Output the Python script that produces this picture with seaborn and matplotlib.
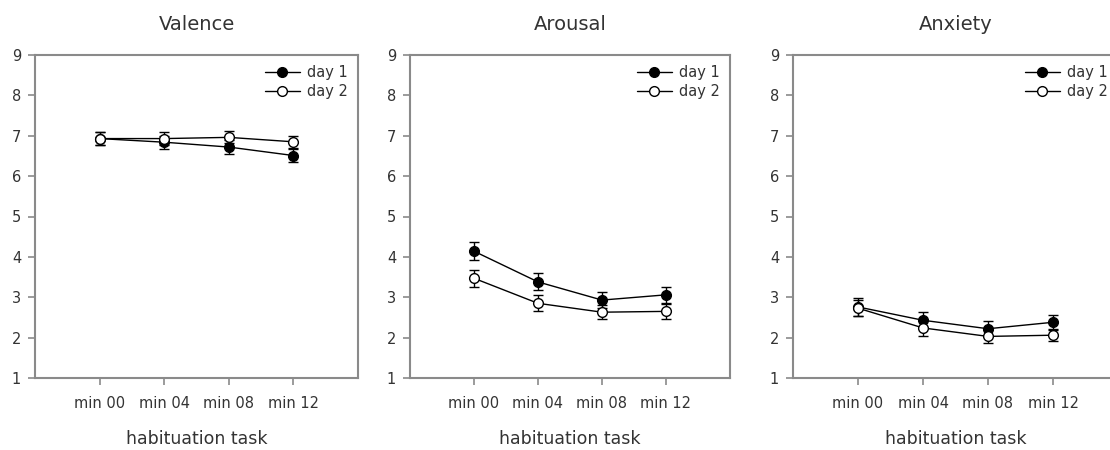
import numpy as np
import pandas as pd
import matplotlib
matplotlib.use("Agg")
import matplotlib.pyplot as plt
import seaborn as sns

# ---- data ----
times = ["min 00", "min 04", "min 08", "min 12"]
panels = ["Valence", "Arousal", "Anxiety"]

valence_day1 = [6.93, 6.84, 6.72, 6.51]
valence_day2 = [6.93, 6.93, 6.96, 6.85]
valence_err1 = [0.16, 0.16, 0.17, 0.15]
valence_err2 = [0.16, 0.16, 0.15, 0.15]

arousal_day1 = [4.14, 3.38, 2.93, 3.06]
arousal_day2 = [3.47, 2.85, 2.63, 2.65]
arousal_err1 = [0.22, 0.21, 0.20, 0.20]
arousal_err2 = [0.21, 0.20, 0.18, 0.18]

anxiety_day1 = [2.76, 2.43, 2.22, 2.38]
anxiety_day2 = [2.73, 2.24, 2.03, 2.06]
anxiety_err1 = [0.22, 0.20, 0.19, 0.18]
anxiety_err2 = [0.20, 0.19, 0.16, 0.15]

series = {
    "Valence": (valence_day1, valence_err1, valence_day2, valence_err2),
    "Arousal": (arousal_day1, arousal_err1, arousal_day2, arousal_err2),
    "Anxiety": (anxiety_day1, anxiety_err1, anxiety_day2, anxiety_err2),
}

rows = []
for p in panels:
    d1, e1, d2, e2 = series[p]
    for t, v, e in zip(times, d1, e1):
        rows.append(dict(panel=p, time=t, day="day 1", value=v, err=e))
    for t, v, e in zip(times, d2, e2):
        rows.append(dict(panel=p, time=t, day="day 2", value=v, err=e))
df = pd.DataFrame(rows)

sns.set_theme(style="white")
plt.rcParams["font.family"] = ["DejaVu Sans"]

fig = plt.figure(figsize=(11.1, 4.5), dpi=100)
W, H = 1110, 450
boxes = [(35, 358), (410, 730), (793, 1118)]
top, bottom = 55, 378

spine_col = "#8a8a8a"
text_col = "#333333"

for i, (p, (l, r)) in enumerate(zip(panels, boxes)):
    ax = fig.add_axes([l / W, (H - bottom) / H, (r - l) / W, (bottom - top) / H])
    sub = df[df.panel == p]
    for day, face in [("day 1", "black"), ("day 2", "white")]:
        s = sub[sub.day == day]
        xs = np.arange(len(times))
        ax.errorbar(xs, s["value"].values, yerr=s["err"].values, fmt="none",
                    ecolor="black", elinewidth=1.0, capsize=3.6, capthick=1.0,
                    zorder=2)
        sns.lineplot(data=s, x="time", y="value", ax=ax, color="black",
                     linewidth=1.0, marker="o", markersize=7,
                     markerfacecolor=face, markeredgecolor="black",
                     markeredgewidth=1.0, label=day, sort=False, zorder=3)
    ax.set_xlim(-1, 4)
    ax.set_ylim(1, 9)
    ax.set_yticks(range(1, 10))
    ax.set_xticks(range(len(times)))
    ax.set_xticklabels(times)
    ax.set_xlabel("habituation task", fontsize=12.5, color=text_col, labelpad=14)
    ax.set_ylabel("")
    ax.set_title(p, fontsize=14, color=text_col, pad=18)
    for sp in ax.spines.values():
        sp.set_color(spine_col)
        sp.set_linewidth(1.5)
    if i == 2:
        ax.spines["right"].set_visible(False)
    ax.tick_params(axis="both", which="major", direction="out", length=5,
                   width=1.2, color=spine_col, labelcolor=text_col,
                   bottom=True, left=True)
    ax.tick_params(axis="x", labelsize=10.5, pad=8)
    ax.tick_params(axis="y", labelsize=10.5, pad=5)
    ax.legend(loc="upper right", frameon=False, fontsize=10.5,
              handlelength=2.4, handletextpad=0.5, borderaxespad=0.3,
              labelspacing=0.25, labelcolor=text_col)

fig.savefig("out.png", dpi=100)
